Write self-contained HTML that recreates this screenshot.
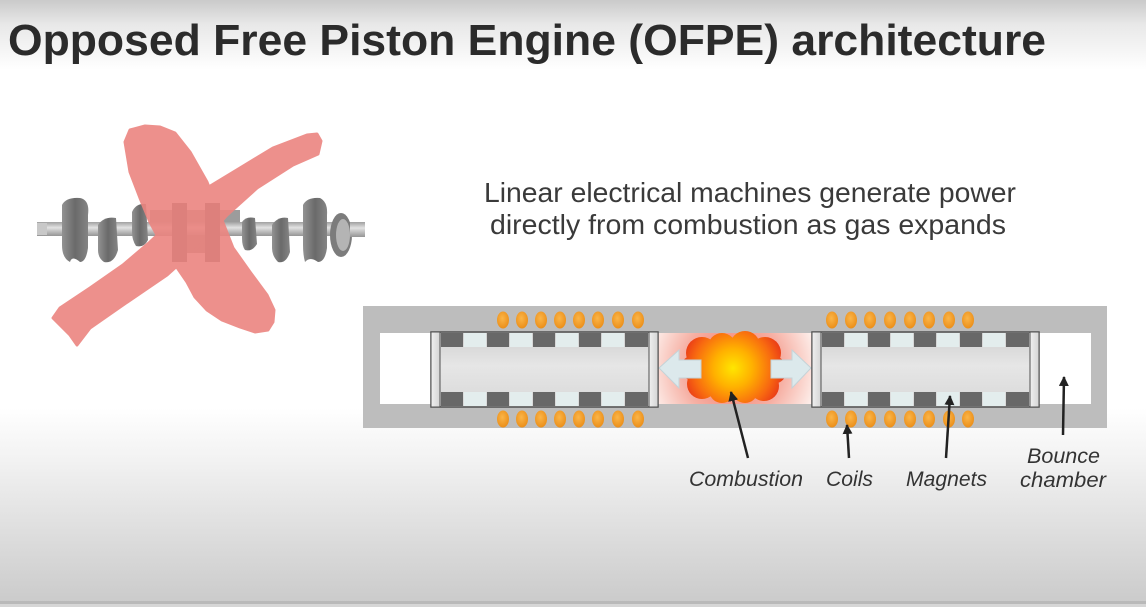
<!DOCTYPE html>
<html><head><meta charset="utf-8"><style>
html,body{margin:0;padding:0;width:1146px;height:607px;overflow:hidden;background:#fff}
svg{display:block}
</style></head><body>
<svg width="1146" height="607" viewBox="0 0 1146 607" xmlns="http://www.w3.org/2000/svg">
<defs>
<linearGradient id="bgTop" x1="0" y1="0" x2="0" y2="1">
<stop offset="0" stop-color="#cacaca"/><stop offset="0.35" stop-color="#e8e8e8"/><stop offset="1" stop-color="#ffffff"/>
</linearGradient>
<linearGradient id="bgBot" x1="0" y1="0" x2="0" y2="1">
<stop offset="0" stop-color="#ffffff"/><stop offset="0.25" stop-color="#f3f3f3"/><stop offset="0.6" stop-color="#e0e0e0"/><stop offset="1" stop-color="#cbcbcb"/>
</linearGradient>
<linearGradient id="body" x1="0" y1="0" x2="0" y2="1">
<stop offset="0" stop-color="#cfcfcf"/><stop offset="0.45" stop-color="#e6e6e6"/><stop offset="1" stop-color="#d8d8d8"/>
</linearGradient>
<linearGradient id="cap" x1="0" y1="0" x2="1" y2="0">
<stop offset="0" stop-color="#f0f0f0"/><stop offset="1" stop-color="#d4d4d4"/>
</linearGradient>
<radialGradient id="coil" cx="0.45" cy="0.4" r="0.6">
<stop offset="0" stop-color="#fbb548"/><stop offset="1" stop-color="#eb8f1a"/>
</radialGradient>
<radialGradient id="glow" cx="733" cy="368" r="85" gradientUnits="userSpaceOnUse">
<stop offset="0" stop-color="#f07060"/><stop offset="0.6" stop-color="#f6b0a4"/><stop offset="1" stop-color="#fdeeea"/>
</radialGradient>
<radialGradient id="fire" cx="733" cy="368" r="56" gradientUnits="userSpaceOnUse">
<stop offset="0" stop-color="#ffe600"/><stop offset="0.35" stop-color="#ffb000"/><stop offset="0.7" stop-color="#f86a10"/><stop offset="1" stop-color="#e52a1a"/>
</radialGradient>
<linearGradient id="shaft" x1="0" y1="0" x2="0" y2="1">
<stop offset="0" stop-color="#a0a0a0"/><stop offset="0.4" stop-color="#e2e2e2"/><stop offset="1" stop-color="#959595"/>
</linearGradient>
<linearGradient id="wt" x1="0" y1="0" x2="1" y2="0">
<stop offset="0" stop-color="#929292"/><stop offset="0.5" stop-color="#6a6a6a"/><stop offset="1" stop-color="#858585"/>
</linearGradient>
<marker id="ah" viewBox="0 0 10 10" refX="9" refY="5" markerWidth="4" markerHeight="4" orient="auto">
<path d="M0,0 L10,5 L0,10 z" fill="#222"/>
</marker>
</defs>

<!-- background -->
<rect x="0" y="0" width="1146" height="607" fill="#fff"/>
<rect x="0" y="0" width="1146" height="70" fill="url(#bgTop)"/>
<rect x="0" y="408" width="1146" height="194" fill="url(#bgBot)"/>
<rect x="0" y="601" width="1146" height="3" fill="#b9b9b9"/>
<rect x="0" y="604" width="1146" height="3" fill="#d6d6d6"/>

<!-- title -->
<text x="8" y="55" font-family="Liberation Sans, Arial, sans-serif" font-weight="bold" font-size="44" fill="#2b2b2b" textLength="1038" lengthAdjust="spacingAndGlyphs">Opposed Free Piston Engine (OFPE) architecture</text>

<!-- subtitle -->
<g font-family="Liberation Sans, Arial, sans-serif" font-size="28" fill="#3a3a3a">
<text x="484" y="202" textLength="532" lengthAdjust="spacingAndGlyphs">Linear electrical machines generate power</text>
<text x="490" y="234" textLength="516" lengthAdjust="spacingAndGlyphs">directly from combustion as gas expands</text>
</g>

<!-- crankshaft -->
<g>
<rect x="37" y="222" width="328" height="14" fill="url(#shaft)"/>
<rect x="37" y="223" width="10" height="12" fill="#c8c8c8"/>
<path d="M62,205 Q66,197 80,198 Q90,200 88,215 L88,248 Q86,262 80,262 Q72,255 70,262 Q62,258 62,245 Z" fill="url(#wt)"/>
<path d="M98,225 Q104,216 116,218 L118,250 Q114,264 104,262 Q98,258 98,250 Z" fill="url(#wt)"/>
<path d="M132,212 Q136,203 146,204 L148,240 Q144,248 136,246 Q132,240 132,232 Z" fill="url(#wt)"/>
<rect x="150" y="210" width="90" height="12" fill="#9c9c9c"/>
<rect x="172" y="203" width="15" height="59" fill="#5a5a5a"/>
<rect x="205" y="203" width="15" height="59" fill="#5a5a5a"/>
<rect x="187" y="235" width="18" height="18" fill="#8a8a8a"/>
<path d="M242,222 Q246,216 255,218 L257,244 Q252,252 245,250 Q242,246 242,238 Z" fill="url(#wt)"/>
<path d="M272,225 Q278,216 288,218 L290,252 Q286,264 278,262 Q272,256 272,248 Z" fill="url(#wt)"/>
<path d="M303,205 Q307,197 320,198 Q328,202 327,215 L327,248 Q325,262 318,262 Q310,256 305,262 Q303,255 303,245 Z" fill="url(#wt)"/>
<ellipse cx="341" cy="235" rx="11" ry="22" fill="#7c7c7c"/>
<ellipse cx="343" cy="235" rx="7" ry="16" fill="#b4b4b4"/>
<rect x="350" y="222" width="15" height="15" fill="url(#shaft)"/>
</g>

<!-- X -->
<g opacity="0.9" fill="#ec8580" stroke="#ec8580" stroke-width="3" stroke-linejoin="round">
<polygon points="125,142 130,130 145,126 160,127 175,133 190,152 207,182 220,215 233,248 250,272 267,295 274,310 273,322 268,330 255,332 240,327 222,320 207,310 195,297 187,282 165,250 150,222 140,198 130,172"/>
<polygon points="53,318 60,308 90,288 123,265 150,242 180,214 207,188 240,168 273,148 307,135 317,134 321,141 318,154 293,165 257,188 227,215 197,248 167,275 123,305 90,328 77,345 70,335"/>
</g>

<!-- engine casing -->
<rect x="363" y="306" width="744" height="122" fill="#bdbdbd"/>
<rect x="380" y="333" width="711" height="71" fill="#ffffff"/>

<!-- combustion glow -->
<rect x="658" y="333" width="154" height="71" fill="url(#glow)"/>

<!-- cloud -->
<g fill="url(#fire)">
<circle cx="702" cy="353" r="16"/>
<circle cx="722" cy="347" r="14"/>
<circle cx="745" cy="346" r="15"/>
<circle cx="765" cy="353" r="16"/>
<circle cx="773" cy="370" r="14"/>
<circle cx="764" cy="386" r="15"/>
<circle cx="745" cy="390" r="13"/>
<circle cx="722" cy="390" r="13"/>
<circle cx="702" cy="384" r="15"/>
<circle cx="694" cy="368" r="13"/>
<circle cx="733" cy="368" r="30"/>
</g>

<!-- arrows (on top of cloud) -->
<g fill="#dce9ec" stroke="#c4d3d8" stroke-width="1">
<path d="M659,368 L679,350 L679,360 L701,360 L701,378 L679,378 L679,388 Z"/>
<path d="M811,368 L792,350 L792,360 L771,360 L771,378 L792,378 L792,388 Z"/>
</g>

<!-- left piston -->
<g>
<rect x="431" y="332" width="227" height="75" fill="url(#body)" stroke="#505050" stroke-width="1.5"/>
<rect x="431" y="332" width="9" height="75" fill="url(#cap)" stroke="#505050" stroke-width="1"/>
<rect x="649" y="332" width="9" height="75" fill="url(#cap)" stroke="#505050" stroke-width="1"/>
<g>
<rect x="441" y="333" width="22" height="14" fill="#686868"/>
<rect x="464" y="333" width="22" height="14" fill="#e3eded"/>
<rect x="487" y="333" width="22" height="14" fill="#686868"/>
<rect x="510" y="333" width="22" height="14" fill="#e3eded"/>
<rect x="533" y="333" width="22" height="14" fill="#686868"/>
<rect x="556" y="333" width="22" height="14" fill="#e3eded"/>
<rect x="579" y="333" width="22" height="14" fill="#686868"/>
<rect x="602" y="333" width="22" height="14" fill="#e3eded"/>
<rect x="625" y="333" width="23" height="14" fill="#686868"/>
<rect x="441" y="392" width="22" height="14" fill="#686868"/>
<rect x="464" y="392" width="22" height="14" fill="#e3eded"/>
<rect x="487" y="392" width="22" height="14" fill="#686868"/>
<rect x="510" y="392" width="22" height="14" fill="#e3eded"/>
<rect x="533" y="392" width="22" height="14" fill="#686868"/>
<rect x="556" y="392" width="22" height="14" fill="#e3eded"/>
<rect x="579" y="392" width="22" height="14" fill="#686868"/>
<rect x="602" y="392" width="22" height="14" fill="#e3eded"/>
<rect x="625" y="392" width="23" height="14" fill="#686868"/>
</g>
</g>

<!-- right piston -->
<g>
<rect x="812" y="332" width="227" height="75" fill="url(#body)" stroke="#505050" stroke-width="1.5"/>
<rect x="812" y="332" width="9" height="75" fill="url(#cap)" stroke="#505050" stroke-width="1"/>
<rect x="1030" y="332" width="9" height="75" fill="url(#cap)" stroke="#505050" stroke-width="1"/>
<g>
<rect x="822" y="333" width="22" height="14" fill="#686868"/>
<rect x="845" y="333" width="22" height="14" fill="#e3eded"/>
<rect x="868" y="333" width="22" height="14" fill="#686868"/>
<rect x="891" y="333" width="22" height="14" fill="#e3eded"/>
<rect x="914" y="333" width="22" height="14" fill="#686868"/>
<rect x="937" y="333" width="22" height="14" fill="#e3eded"/>
<rect x="960" y="333" width="22" height="14" fill="#686868"/>
<rect x="983" y="333" width="22" height="14" fill="#e3eded"/>
<rect x="1006" y="333" width="23" height="14" fill="#686868"/>
<rect x="822" y="392" width="22" height="14" fill="#686868"/>
<rect x="845" y="392" width="22" height="14" fill="#e3eded"/>
<rect x="868" y="392" width="22" height="14" fill="#686868"/>
<rect x="891" y="392" width="22" height="14" fill="#e3eded"/>
<rect x="914" y="392" width="22" height="14" fill="#686868"/>
<rect x="937" y="392" width="22" height="14" fill="#e3eded"/>
<rect x="960" y="392" width="22" height="14" fill="#686868"/>
<rect x="983" y="392" width="22" height="14" fill="#e3eded"/>
<rect x="1006" y="392" width="23" height="14" fill="#686868"/>
</g>
</g>

<!-- coils -->
<g fill="url(#coil)">
<ellipse cx="503" cy="320" rx="6" ry="8.5"/><ellipse cx="522" cy="320" rx="6" ry="8.5"/><ellipse cx="541" cy="320" rx="6" ry="8.5"/><ellipse cx="560" cy="320" rx="6" ry="8.5"/><ellipse cx="579" cy="320" rx="6" ry="8.5"/><ellipse cx="598" cy="320" rx="6" ry="8.5"/><ellipse cx="618" cy="320" rx="6" ry="8.5"/><ellipse cx="638" cy="320" rx="6" ry="8.5"/>
<ellipse cx="503" cy="419" rx="6" ry="8.5"/><ellipse cx="522" cy="419" rx="6" ry="8.5"/><ellipse cx="541" cy="419" rx="6" ry="8.5"/><ellipse cx="560" cy="419" rx="6" ry="8.5"/><ellipse cx="579" cy="419" rx="6" ry="8.5"/><ellipse cx="598" cy="419" rx="6" ry="8.5"/><ellipse cx="618" cy="419" rx="6" ry="8.5"/><ellipse cx="638" cy="419" rx="6" ry="8.5"/>
<ellipse cx="832" cy="320" rx="6" ry="8.5"/><ellipse cx="851" cy="320" rx="6" ry="8.5"/><ellipse cx="870" cy="320" rx="6" ry="8.5"/><ellipse cx="890" cy="320" rx="6" ry="8.5"/><ellipse cx="910" cy="320" rx="6" ry="8.5"/><ellipse cx="929" cy="320" rx="6" ry="8.5"/><ellipse cx="949" cy="320" rx="6" ry="8.5"/><ellipse cx="968" cy="320" rx="6" ry="8.5"/>
<ellipse cx="832" cy="419" rx="6" ry="8.5"/><ellipse cx="851" cy="419" rx="6" ry="8.5"/><ellipse cx="870" cy="419" rx="6" ry="8.5"/><ellipse cx="890" cy="419" rx="6" ry="8.5"/><ellipse cx="910" cy="419" rx="6" ry="8.5"/><ellipse cx="929" cy="419" rx="6" ry="8.5"/><ellipse cx="949" cy="419" rx="6" ry="8.5"/><ellipse cx="968" cy="419" rx="6" ry="8.5"/>
</g>

<!-- callout arrows -->
<g stroke="#222" stroke-width="2.5" fill="none" marker-end="url(#ah)">
<line x1="748" y1="458" x2="731" y2="392"/>
<line x1="849" y1="458" x2="847" y2="425"/>
<line x1="946" y1="458" x2="950" y2="396"/>
<line x1="1063" y1="435" x2="1064" y2="377"/>
</g>

<!-- labels -->
<g font-family="Liberation Sans, Arial, sans-serif" font-style="italic" font-size="21" fill="#333">
<text x="689" y="486" textLength="114" lengthAdjust="spacingAndGlyphs">Combustion</text>
<text x="826" y="486" textLength="47" lengthAdjust="spacingAndGlyphs">Coils</text>
<text x="906" y="486" textLength="81" lengthAdjust="spacingAndGlyphs">Magnets</text>
<text x="1027" y="463" textLength="73" lengthAdjust="spacingAndGlyphs">Bounce</text>
<text x="1020" y="487" textLength="86" lengthAdjust="spacingAndGlyphs">chamber</text>
</g>
</svg>
</body></html>
